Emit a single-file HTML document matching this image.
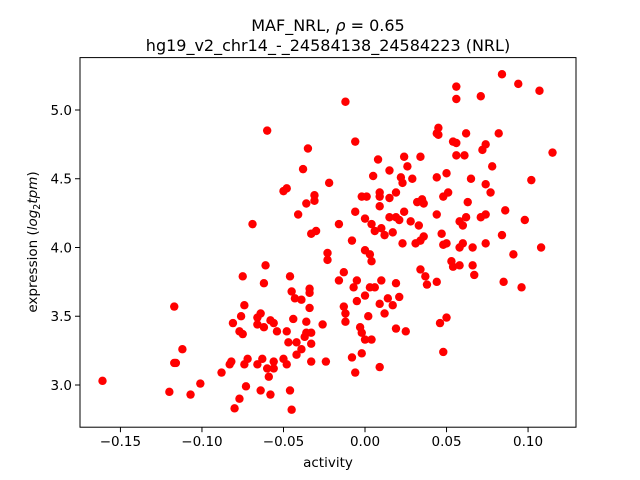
<!DOCTYPE html>
<html><head><meta charset="utf-8"><style>
body{margin:0;background:#fff}
svg{display:block;font-family:"DejaVu Sans","Liberation Sans",sans-serif}
</style></head><body>
<svg id="chart" width="640" height="480" xmlns="http://www.w3.org/2000/svg">
<rect width="640" height="480" fill="#fff"/>
<text x="328" y="31" text-anchor="middle" font-size="16">MAF_NRL, <tspan font-style="italic">ρ</tspan> = 0.65</text>
<text x="328" y="51" text-anchor="middle" font-size="16">hg19_v2_chr14_-_24584138_24584223 (NRL)</text>
<g id="points"></g>
<rect x="80" y="57.6" width="496" height="369.6" fill="none" stroke="#000" stroke-width="1"/>
<g id="xticks"></g>
<g id="yticks"></g>
<text x="328" y="467" text-anchor="middle" font-size="13.5">activity</text>
<text transform="translate(37,242) rotate(-90)" text-anchor="middle" font-size="13.5">expression (<tspan font-style="italic">log</tspan><tspan font-size="9.5" dy="3">2</tspan><tspan font-style="italic" dy="-3">tpm</tspan>)</text>
</svg>
<script>
const xValues=[-0.161,-0.117,-0.112,-0.117,-0.116,-0.120,-0.107,-0.101,-0.088,-0.083,-0.082,-0.080,-0.077,-0.073,-0.075,-0.061,-0.062,-0.074,-0.076,-0.081,-0.077,-0.075,-0.066,-0.064,-0.066,-0.062,-0.058,-0.056,-0.054,-0.074,-0.072,-0.066,-0.063,-0.060,-0.056,-0.056,-0.050,-0.048,-0.059,-0.064,-0.058,-0.046,-0.045,-0.046,-0.045,-0.043,-0.039,-0.034,-0.034,-0.034,-0.044,-0.036,-0.026,-0.048,-0.047,-0.042,-0.039,-0.042,-0.036,-0.033,-0.037,-0.033,-0.033,-0.024,-0.023,-0.023,-0.008,0.023,0.031,0.034,0.048,0.050,0.058,0.060,0.066,0.074,0.108,0.091,0.000,0.003,0.004,-0.013,-0.016,-0.005,-0.007,0.003,0.006,0.010,0.019,0.034,0.037,0.038,0.044,0.053,0.054,0.058,0.066,0.067,0.085,0.096,-0.013,-0.012,-0.012,-0.005,0.000,0.009,0.012,0.014,0.017,0.021,0.002,-0.003,-0.002,0.000,0.004,0.019,0.025,0.046,0.050,0.048,-0.008,-0.002,0.009,-0.006,0.084,0.094,0.107,0.056,0.056,0.071,-0.012,-0.060,-0.006,-0.035,-0.038,-0.022,-0.050,-0.048,-0.036,-0.031,-0.031,-0.041,-0.069,-0.016,-0.033,-0.030,0.008,0.024,0.034,0.026,0.015,0.005,0.022,0.023,0.029,-0.002,0.001,0.009,0.009,0.019,0.015,0.009,-0.006,0.000,0.004,0.006,0.010,0.012,0.017,0.015,0.019,0.021,0.024,0.028,0.033,0.036,0.032,0.035,0.036,0.044,0.047,0.044,0.050,0.048,0.051,0.045,0.044,0.045,0.054,0.056,0.062,0.056,0.061,0.065,0.063,0.074,0.077,0.074,0.072,0.082,0.078,0.058,0.060,0.062,0.071,0.074,0.086,0.098,0.084,0.102,0.115];
const yValues=[3.03,3.57,3.26,3.16,3.16,2.95,2.93,3.01,3.09,3.15,3.17,2.83,2.90,2.99,3.79,3.87,3.74,3.58,3.50,3.45,3.39,3.37,3.49,3.52,3.44,3.42,3.47,3.45,3.39,3.15,3.19,3.15,3.19,3.12,3.12,3.17,3.19,3.15,3.06,2.96,2.93,2.96,2.82,3.79,3.68,3.63,3.62,3.70,3.67,3.56,3.48,3.46,3.44,3.39,3.31,3.31,3.26,3.22,3.38,3.38,3.35,3.30,3.17,3.17,3.91,3.96,4.05,4.03,4.03,4.05,4.02,4.03,4.00,4.03,4.00,4.03,4.00,3.95,3.98,3.95,3.90,3.82,3.76,3.76,3.71,3.71,3.71,3.76,3.74,3.84,3.79,3.73,3.75,3.90,3.86,3.87,3.87,3.80,3.75,3.71,3.57,3.52,3.46,3.61,3.65,3.59,3.52,3.63,3.58,3.64,3.50,3.42,3.38,3.33,3.33,3.41,3.39,3.45,3.49,3.24,3.20,3.23,3.13,3.09,5.26,5.19,5.14,5.17,5.08,5.10,5.06,4.85,4.77,4.72,4.57,4.47,4.41,4.43,4.32,4.38,4.34,4.24,4.17,4.17,4.10,4.12,4.64,4.66,4.66,4.59,4.56,4.52,4.51,4.47,4.50,4.37,4.37,4.40,4.37,4.40,4.36,4.30,4.26,4.21,4.17,4.12,4.14,4.09,4.11,4.22,4.22,4.20,4.26,4.19,4.16,4.08,4.33,4.35,4.32,4.24,4.10,4.51,4.54,4.37,4.40,4.87,4.83,4.82,4.77,4.76,4.83,4.67,4.67,4.50,4.33,4.46,4.40,4.75,4.71,4.83,4.59,4.19,4.16,4.22,4.22,4.24,4.27,4.20,4.09,4.49,4.69];
const xTickValues=[-0.15,-0.10,-0.05,0.00,0.05,0.10];
const xTickLabels=["−0.15","−0.10","−0.05","0.00","0.05","0.10"];
const yTickValues=[3.0,3.5,4.0,4.5,5.0];
const yTickLabels=["3.0","3.5","4.0","4.5","5.0"];
const NS="http://www.w3.org/2000/svg";
const X0=80,X1=576,Y0=427.2,Y1=57.6;
const xMin=-0.1748,xMax=0.1294,yMin=2.693,yMax=5.381;
function sx(v){return X0+(v-xMin)/(xMax-xMin)*(X1-X0);}
function sy(v){return Y0-(v-yMin)/(yMax-yMin)*(Y0-Y1);}
const pg=document.getElementById('points');
for(let i=0;i<xValues.length;i++){
  const c=document.createElementNS(NS,'circle');
  c.setAttribute('cx',sx(xValues[i]));c.setAttribute('cy',sy(yValues[i]));
  c.setAttribute('r',4.2);c.setAttribute('fill','#ff0000');
  
  
  pg.appendChild(c);
}
const xg=document.getElementById('xticks');
xTickValues.forEach((v,i)=>{
  const x=sx(v);
  const l=document.createElementNS(NS,'line');
  l.setAttribute('x1',x);l.setAttribute('x2',x);l.setAttribute('y1',Y0);l.setAttribute('y2',Y0+5);l.setAttribute('stroke','#000');
  
  
  xg.appendChild(l);
  const t=document.createElementNS(NS,'text');
  t.setAttribute('x',x);t.setAttribute('y',Y0+19);t.setAttribute('text-anchor','middle');t.setAttribute('font-size','13.5');
  t.textContent=xTickLabels[i];
  
  
  xg.appendChild(t);
});
const yg=document.getElementById('yticks');
yTickValues.forEach((v,i)=>{
  const y=sy(v);
  const l=document.createElementNS(NS,'line');
  l.setAttribute('x1',X0-5);l.setAttribute('x2',X0);l.setAttribute('y1',y);l.setAttribute('y2',y);l.setAttribute('stroke','#000');
  
  
  yg.appendChild(l);
  const t=document.createElementNS(NS,'text');
  t.setAttribute('x',X0-8);t.setAttribute('y',y+5);t.setAttribute('text-anchor','end');t.setAttribute('font-size','13.5');
  t.textContent=yTickLabels[i];
  
  
  yg.appendChild(t);
});
</script>
</body></html>
